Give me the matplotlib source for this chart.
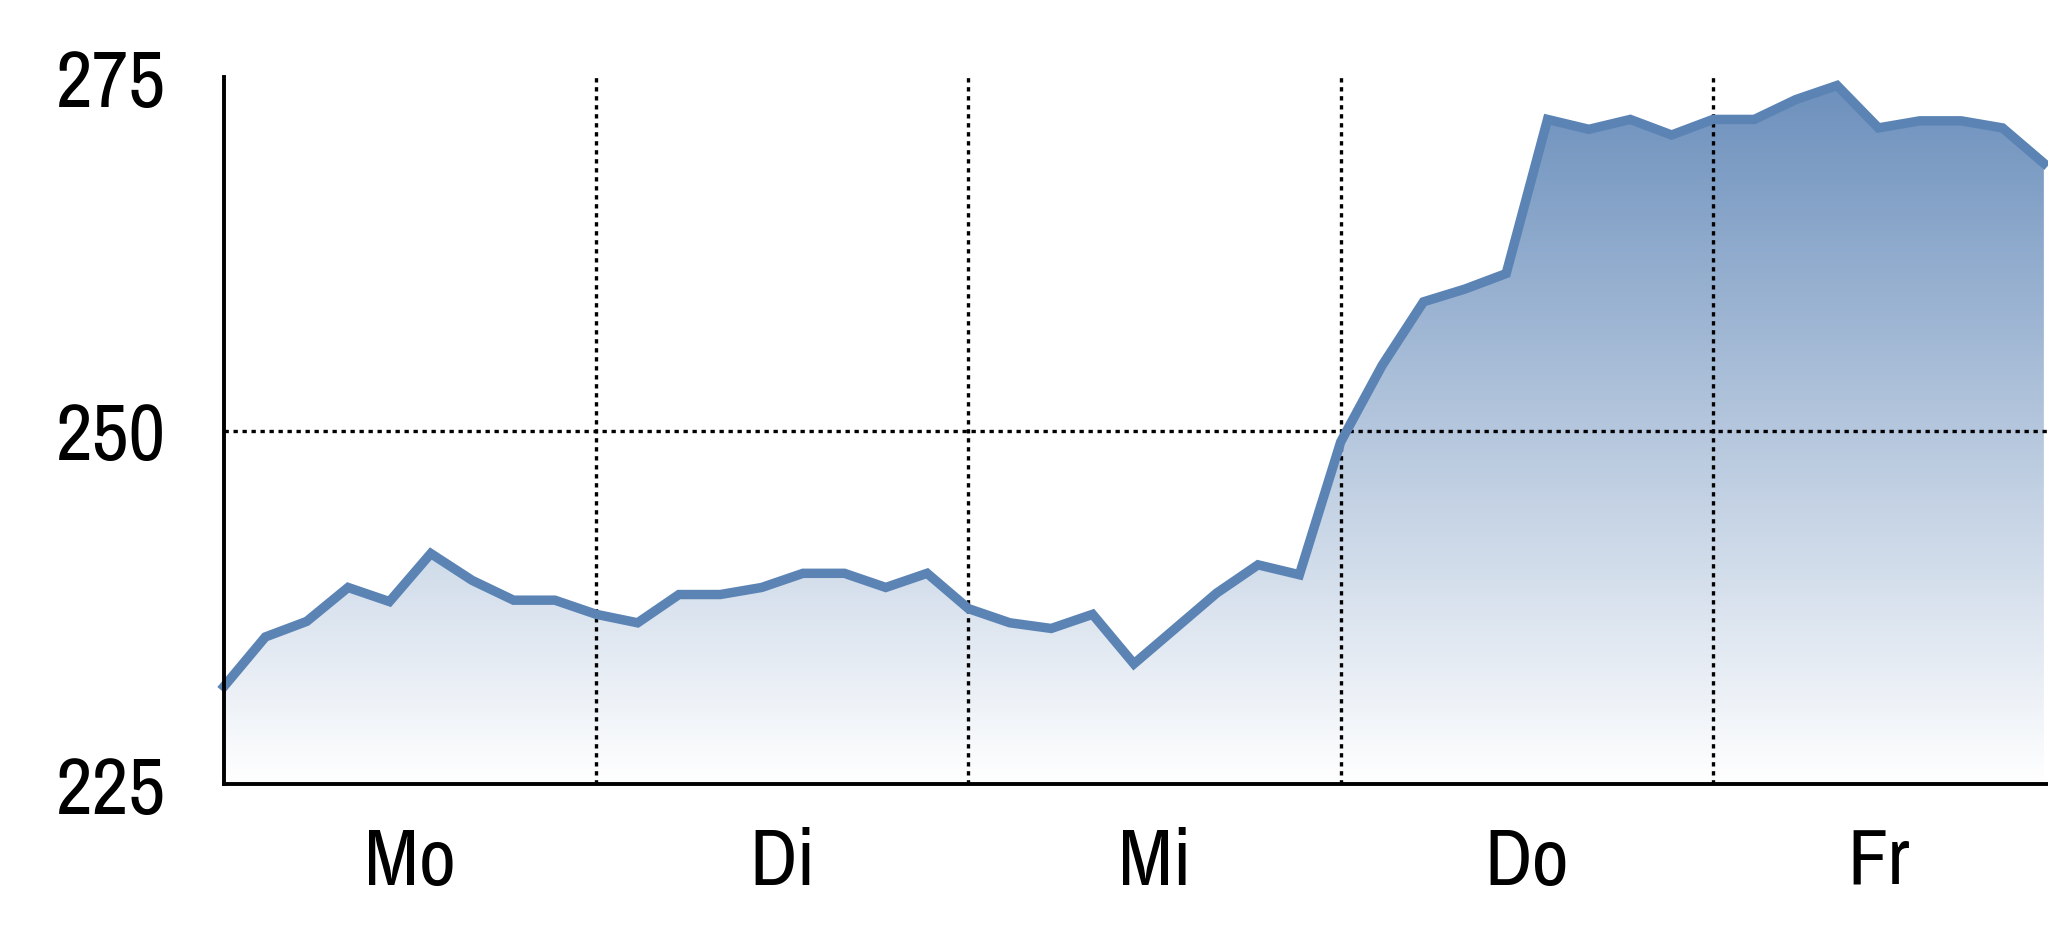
import numpy as np
import matplotlib
matplotlib.use("Agg")
import matplotlib.pyplot as plt
from matplotlib.colors import LinearSegmentedColormap
from matplotlib.patches import Polygon

values = [231.9, 235.4, 236.5, 238.9, 237.9, 241.3, 239.4, 238.0, 238.0, 237.0,
          236.4, 238.4, 238.4, 238.9, 239.9, 239.9, 238.9, 239.9, 237.4, 236.4,
          236.0, 237.0, 233.5, 236.0, 238.5, 240.5, 239.8, 249.2, 254.6, 259.1,
          260.0, 261.1, 272.0, 271.3, 272.0, 270.9, 272.0, 272.0, 273.4, 274.4,
          271.4, 271.9, 271.9, 271.4, 268.9]
day_labels = ["Mo", "Di", "Mi", "Do", "Fr"]
day_bounds = [0, 9, 18, 27, 36, 44]
y_ticks = [225, 250, 275]

plt.rcParams['font.family'] = ['Archivo Narrow', 'Roboto Condensed', 'DejaVu Sans']

fig = plt.figure(figsize=(20.48, 9.37), dpi=100)
ax = fig.add_axes([224 / 2048, (937 - 785) / 937, 1 - 224 / 2048, (785 - 78) / 937])

x = np.arange(len(values))
ymin, ymax = 225, 275
ax.set_xlim(0, 44.1)
ax.set_ylim(ymin, ymax)

# gradient fill under the line
cmap = LinearSegmentedColormap.from_list("g", ["#ffffff", "#6b8fbc"])
grad = np.linspace(0, 1, 256).reshape(-1, 1)
im = ax.imshow(grad, cmap=cmap, aspect="auto", origin="lower",
               extent=[0, x[-1], ymin, ymax], zorder=1)
verts = [(0, ymin)] + list(zip(x, values)) + [(x[-1], ymin)]
poly = Polygon(verts, closed=True, facecolor="none", edgecolor="none")
ax.add_patch(poly)
im.set_clip_path(poly)

# grid
dots = (0, (1.3, 1.4))
for b in day_bounds[1:-1]:
    ax.axvline(b, color="black", lw=2.4, linestyle=dots, zorder=2)
ax.axhline(250, color="black", lw=2.4, linestyle=dots, zorder=2)

ax.plot(x, values, color="#5b84b5", lw=6.8, solid_joinstyle="miter", zorder=3,
        clip_on=False)

# ticks
centers = [(day_bounds[i] + day_bounds[i + 1]) / 2 for i in range(len(day_labels))]
ax.set_xticks(centers)
ax.set_xticklabels(day_labels)
ax.set_yticks(y_ticks)
ax.set_yticklabels([str(v) for v in y_ticks])
ax.tick_params(axis="both", length=0, labelsize=58)
ax.tick_params(axis="y", pad=42)
ax.tick_params(axis="x", pad=30)

for s in ["top", "right"]:
    ax.spines[s].set_visible(False)
for s in ["left", "bottom"]:
    ax.spines[s].set_linewidth(2.8)
    ax.spines[s].set_color("black")
    ax.spines[s].set_zorder(4)

fig.savefig("out.png", dpi=100, facecolor="white")
